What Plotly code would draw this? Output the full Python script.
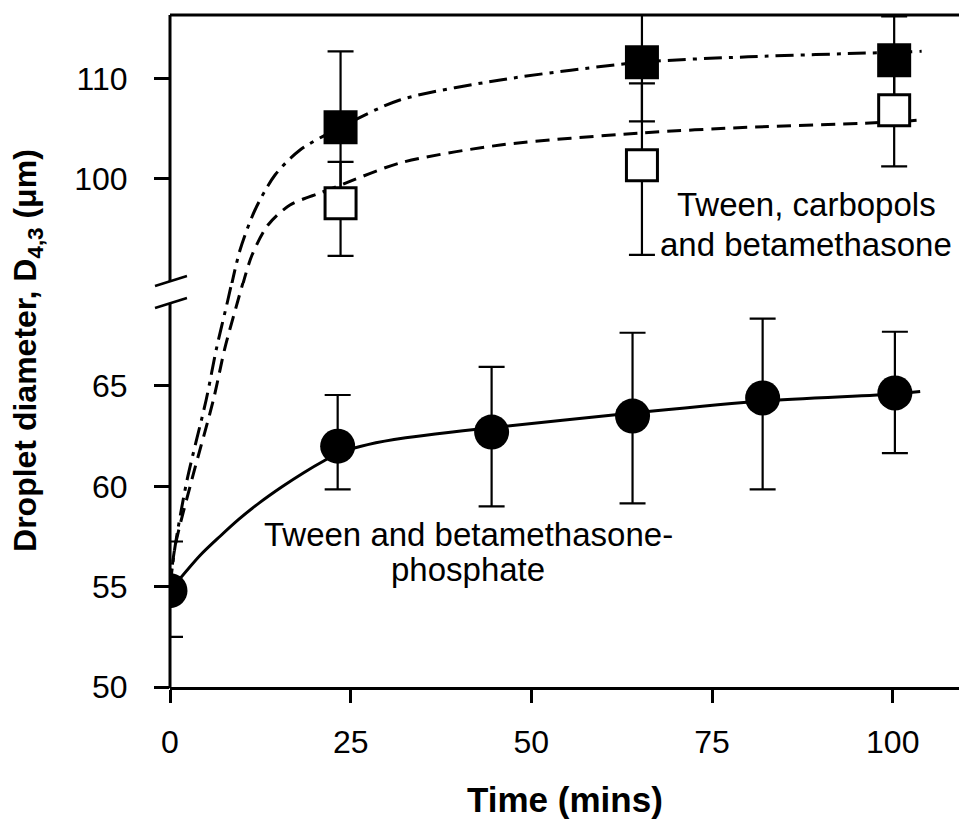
import plotly.graph_objects as go

# ---------------- data ----------------
# Tween and betamethasone-phosphate (filled circles)
t_circ = [0, 23.2, 44.5, 64.0, 82.0, 100.3]
d_circ = [54.8, 62.0, 62.7, 63.5, 64.4, 64.65]
e_circ_up = [2.45, 2.55, 3.25, 4.15, 3.95, 3.05]
e_circ_dn = [2.3, 2.15, 3.7, 4.35, 4.55, 3.0]

# Tween, carbopols and betamethasone (filled and open squares)
t_sq = [23.6, 65.3, 100.2]
d_black = [105.1, 111.6, 111.8]
e_black = [7.6, 5.9, 4.4]
d_white = [97.5, 101.3, 106.8]
e_white_up = [4.15, 8.2, 5.6]
e_white_dn = [5.25, 8.95, 5.6]

# fitted curves
fit_solid_t = [0, 4.15, 6.9, 9.5, 12.45, 15.5, 18.5, 21.2, 23.2, 26.3, 31.0, 44.0, 64.0, 82.0, 100.3, 103.8]
fit_solid_y = [54.8, 56.55, 57.5, 58.35, 59.2, 59.98, 60.68, 61.25, 61.62, 61.98, 62.33, 62.9, 63.65, 64.25, 64.6, 64.72]

fit_dd_low_t = [0, 0.7, 2.35, 5.0, 6.45, 8.0, 8.7]
fit_dd_low_y = [55.0, 57.0, 60.3, 64.3, 66.9, 69.27, 70.4]
fit_dd_up_t = [8.45, 9.69, 11.76, 14.53, 17.99, 23.66, 31.8, 45.7, 65.2, 80.0, 100.0, 104.0]
fit_dd_up_y = [89.1, 92.83, 96.83, 100.33, 102.83, 105.13, 107.83, 109.83, 111.6, 112.15, 112.6, 112.7]

fit_da_low_t = [0, 0.7, 3.0, 6.0, 7.6, 9.41, 10.3]
fit_da_low_y = [55.0, 57.0, 60.3, 64.3, 66.9, 69.27, 70.4]
fit_da_up_t = [10.0, 11.35, 13.56, 16.6, 20.76, 23.66, 31.8, 45.7, 65.2, 80.0, 100.0, 103.3]
fit_da_up_y = [89.2, 92.33, 95.33, 97.33, 98.53, 99.33, 101.53, 103.33, 104.53, 105.1, 105.63, 105.8]

x_ticks = [0, 25, 50, 75, 100]
y_low_ticks = [50, 55, 60, 65]
y_up_ticks = [100, 110]

label_upper = ["Tween, carbopols", "and betamethasone"]
label_lower = ["Tween and betamethasone-", "phosphate"]

# ---------------- figure ----------------
FONT = "Liberation Sans, Arial, sans-serif"
fig = go.Figure()

line_common = dict(color="black", width=3, shape="spline", smoothing=0.8)
DD = "18px,7px,4px,7px"
DA = "14px,8px"

fig.add_trace(go.Scatter(x=fit_solid_t, y=fit_solid_y, mode="lines", yaxis="y",
                         line=dict(**line_common), hoverinfo="skip"))
fig.add_trace(go.Scatter(x=fit_dd_low_t, y=fit_dd_low_y, mode="lines", yaxis="y",
                         line=dict(dash=DD, **line_common), hoverinfo="skip"))
fig.add_trace(go.Scatter(x=fit_da_low_t, y=fit_da_low_y, mode="lines", yaxis="y",
                         line=dict(dash=DA, **line_common), hoverinfo="skip"))
fig.add_trace(go.Scatter(x=fit_dd_up_t, y=fit_dd_up_y, mode="lines", yaxis="y2",
                         line=dict(dash=DD, **line_common), hoverinfo="skip"))
fig.add_trace(go.Scatter(x=fit_da_up_t, y=fit_da_up_y, mode="lines", yaxis="y2",
                         line=dict(dash=DA, **line_common), hoverinfo="skip"))

eb = dict(color="black", thickness=2.2, width=13)

fig.add_trace(go.Scatter(
    x=t_sq, y=d_black, mode="markers", yaxis="y2",
    marker=dict(symbol="square", size=34, color="black", line=dict(width=0)),
    error_y=dict(type="data", array=e_black, symmetric=True, **eb)))
fig.add_trace(go.Scatter(
    x=t_sq, y=d_white, mode="markers", yaxis="y2",
    marker=dict(symbol="square", size=31, color="white", line=dict(width=3, color="black")),
    error_y=dict(type="data", array=e_white_up, arrayminus=e_white_dn, symmetric=False, **eb)))
fig.add_trace(go.Scatter(
    x=t_circ, y=d_circ, mode="markers", yaxis="y",
    marker=dict(symbol="circle", size=35, color="black", line=dict(width=0)),
    error_y=dict(type="data", array=e_circ_up, arrayminus=e_circ_dn, symmetric=False, **eb)))

axis_common = dict(ticks="outside", tickwidth=3, tickcolor="black", showgrid=False,
                   zeroline=False, tickfont=dict(size=32, family=FONT, color="black"))

SPLIT = 0.6012
fig.update_layout(
    width=959, height=840,
    margin=dict(l=170, r=0, t=15, b=153),
    plot_bgcolor="white", paper_bgcolor="white",
    showlegend=False,
    font=dict(family=FONT, color="black", size=30),
    xaxis=dict(range=[0, 109.17], tickvals=x_ticks, ticktext=[str(v) for v in x_ticks],
               ticklen=13, showline=True, linewidth=3, linecolor="black", anchor="y",
               ticklabelstandoff=12, **axis_common),
    yaxis=dict(domain=[0, SPLIT], range=[50, 70.13], tickvals=y_low_ticks,
               ticktext=[str(v) for v in y_low_ticks], ticklen=15, showline=False,
               anchor="x", ticklabelstandoff=20, **axis_common),
    yaxis2=dict(domain=[SPLIT, 1], range=[89.53, 116.33], tickvals=y_up_ticks,
                ticktext=[str(v) for v in y_up_ticks], ticklen=15, showline=False,
                anchor="x", ticklabelstandoff=20, **axis_common),
)

ln = dict(color="black", width=3)
shapes = [
    # left axis, lower and upper pieces
    dict(type="line", xref="paper", yref="paper", x0=0, x1=0, y0=-0.002, y1=0.570, line=ln),
    dict(type="line", xref="paper", yref="paper", x0=0, x1=0, y0=0.604, y1=1.0, line=ln),
    # axis-break marks
    dict(type="line", xref="paper", yref="paper", x0=-0.019, x1=0.0215, y0=0.5967, y1=0.6116,
         line=dict(color="black", width=2.5)),
    dict(type="line", xref="paper", yref="paper", x0=-0.019, x1=0.0215, y0=0.5640, y1=0.5789,
         line=dict(color="black", width=2.5)),
    # top border
    dict(type="line", xref="paper", yref="paper", x0=0, x1=1, y0=1, y1=1, line=ln),
]
fig.update_layout(shapes=shapes)

ann_font = dict(family=FONT, size=33, color="black")
annotations = [
    dict(text=label_upper[0], xref="x", yref="y2", x=88.0, y=97.4, showarrow=False,
         xanchor="center", yanchor="middle", font=ann_font),
    dict(text=label_upper[1], xref="x", yref="y2", x=88.0, y=93.35, showarrow=False,
         xanchor="center", yanchor="middle", font=ann_font),
    dict(text=label_lower[0], xref="x", yref="y", x=41.3, y=57.6, showarrow=False,
         xanchor="center", yanchor="middle", font=ann_font),
    dict(text=label_lower[1], xref="x", yref="y", x=41.3, y=55.85, showarrow=False,
         xanchor="center", yanchor="middle", font=ann_font),
    dict(text="<b>Time (mins)</b>", xref="paper", yref="paper", x=0.5, y=-0.168,
         showarrow=False, xanchor="center", yanchor="middle",
         font=dict(family=FONT, size=35, color="black")),
    dict(text="<b>Droplet diameter, D<sub>4,3</sub> (μm)</b>", xref="paper", yref="paper",
         x=-0.18, y=0.5015, textangle=-90, showarrow=False, xanchor="center",
         yanchor="middle", font=dict(family=FONT, size=32, color="black")),
]
fig.update_layout(annotations=annotations)

fig.write_html("out.html")
